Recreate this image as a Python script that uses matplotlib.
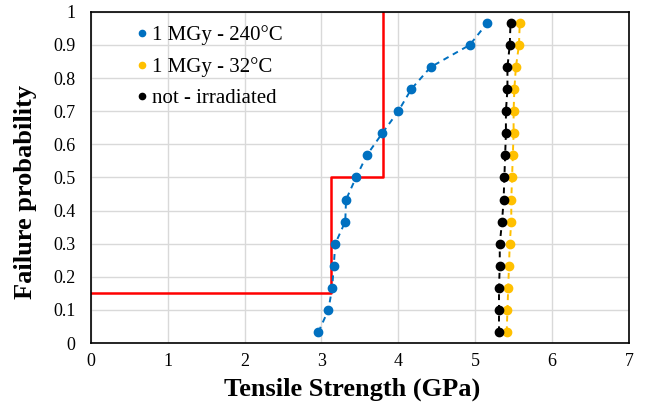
import matplotlib

matplotlib.use("Agg")
import matplotlib.pyplot as plt
from matplotlib.ticker import FuncFormatter

plt.rcParams["font.family"] = ["Liberation Serif", "DejaVu Serif"]

# failure probabilities (i - 0.5) / 15
prob = [0.033, 0.1, 0.167, 0.233, 0.3, 0.367, 0.433, 0.5,
        0.567, 0.633, 0.7, 0.767, 0.833, 0.9, 0.967]

strength_240c = [2.96, 3.09, 3.14, 3.16, 3.18, 3.31, 3.32, 3.45,
                 3.59, 3.79, 4.00, 4.17, 4.42, 4.93, 5.16]
strength_32c = [5.41, 5.42, 5.43, 5.44, 5.45, 5.47, 5.47, 5.48,
                5.49, 5.50, 5.50, 5.51, 5.53, 5.57, 5.58]
strength_ref = [5.31, 5.31, 5.31, 5.32, 5.32, 5.35, 5.37, 5.38,
                5.39, 5.40, 5.40, 5.42, 5.42, 5.45, 5.46]

step_x = [0, 3.13, 3.13, 3.8, 3.8]
step_y = [0.15, 0.15, 0.5, 0.5, 1.0]

series = [
    ("1 MGy - 240°C", strength_240c, "#0070C0"),
    ("1 MGy - 32°C", strength_32c, "#FFC000"),
    ("not - irradiated", strength_ref, "#000000"),
]

fig = plt.figure(figsize=(6.49, 4.07), dpi=100)
ax = fig.add_axes([0.140, 0.157, 0.829, 0.814])

ax.plot(step_x, step_y, color="#FF0000", linewidth=1.8, zorder=2)

for label, xs, color in series:
    ax.plot(xs, prob, linestyle=(0, (3, 2.5)), color=color, linewidth=1.4, zorder=3)
    ax.plot(xs, prob, linestyle="none", marker="o", markersize=6,
            color=color, label=label, zorder=4)

ax.set_xlim(0, 7)
ax.set_ylim(0, 1)
ax.set_xticks(range(8))
ax.set_yticks([i / 10 for i in range(11)])
ax.yaxis.set_major_formatter(FuncFormatter(lambda v, _: f"{v:g}"))
ax.tick_params(length=0, labelsize=13)
ax.tick_params(axis="y", pad=11)
ax.tick_params(axis="x", pad=7)
ax.grid(color="#d9d9d9", linewidth=1)
ax.set_axisbelow(True)
for spine in ax.spines.values():
    spine.set_color("black")
    spine.set_linewidth(1.2)

ax.set_xlabel("Tensile Strength (GPa)", fontsize=19, fontweight="bold")
ax.set_ylabel("Failure probability", fontsize=19, fontweight="bold")
ax.xaxis.set_label_coords(0.485, -0.105)
ax.yaxis.set_label_coords(-0.10, 0.455)

ax.legend(loc="upper left", bbox_to_anchor=(0.05, 1.015), frameon=False,
          fontsize=15, handlelength=0.5, handletextpad=0.25, labelspacing=0.55,
          markerscale=0.75)

fig.savefig("out.png", dpi=100)
